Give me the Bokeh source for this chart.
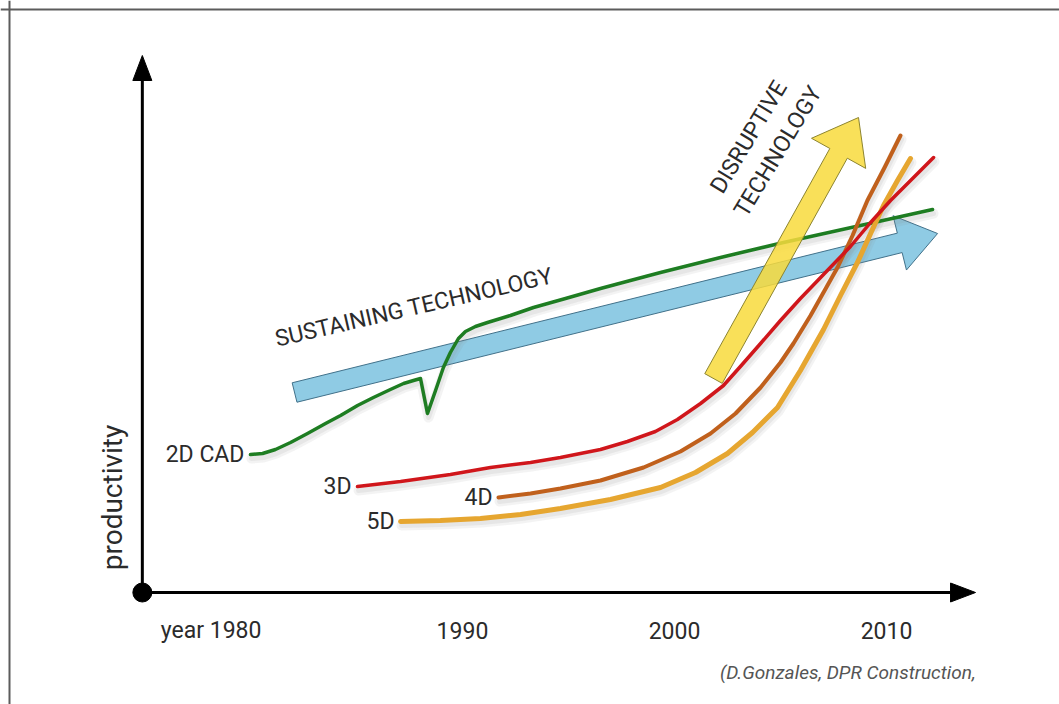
import math
from bokeh.plotting import figure
from bokeh.models import Range1d, Span
from bokeh.core.properties import value
from bokeh.embed import file_html
from bokeh.resources import INLINE

# ---------------- data (year, productivity index) ----------------
cad2d_x = [1980.0, 1980.57, 1981.18, 1981.89, 1982.69, 1983.54, 1984.25, 1985.05, 1985.80, 1986.60,
           1987.22, 1987.69, 1988.02, 1988.35, 1988.73, 1989.10, 1989.43, 1989.81, 1990.14, 1990.61,
           1991.18, 1992.26, 1993.35, 1994.86, 1996.51, 1997.92, 1999.34, 2002.17, 2005.14, 2008.77, 2012.17]
cad2d_y = [27.6, 27.8, 28.6, 30.0, 31.8, 33.8, 35.4, 37.4, 39.0, 40.6,
           41.8, 42.4, 42.8, 35.8, 40.4, 45.0, 48.0, 50.8, 52.2, 53.2,
           54.0, 55.4, 57.0, 58.8, 60.8, 62.4, 64.0, 67.0, 70.0, 73.4, 76.6]

d3_x = [1985.05, 1987.08, 1989.43, 1991.32, 1993.21, 1994.62, 1996.51, 1997.78, 1999.10, 2000.14, 2001.23,
        2002.31, 2003.11, 2004.06, 2005.0, 2005.94, 2007.12, 2008.30, 2009.25, 2010.19, 2011.23, 2012.22]
d3_y = [21.2, 22.2, 23.6, 25.0, 26.0, 27.0, 28.6, 30.2, 32.2, 34.6, 37.8,
        41.4, 45.2, 49.8, 54.4, 58.8, 64.0, 69.2, 74.0, 78.4, 82.8, 87.0]

d4_x = [1991.70, 1993.21, 1994.62, 1996.51, 1998.54, 2000.28, 2001.70, 2002.88, 2004.06, 2005.0,
        2005.61, 2006.42, 2007.69, 2008.40, 2009.10, 2009.91, 2010.66]
d4_y = [19.0, 19.8, 20.8, 22.4, 25.0, 28.2, 31.8, 35.8, 41.0, 46.0,
        49.8, 55.4, 65.0, 71.4, 78.4, 85.0, 91.4]

d5_x = [1987.08, 1988.96, 1990.85, 1992.74, 1994.62, 1996.98, 1999.34, 2000.99, 2002.50, 2003.68,
        2004.86, 2005.94, 2007.03, 2007.83, 2008.63, 2009.25, 2009.86, 2010.52, 2011.13]
d5_y = [14.2, 14.4, 14.8, 15.6, 16.8, 18.6, 21.0, 24.0, 27.8, 32.0,
        37.0, 44.4, 52.6, 59.4, 66.0, 71.8, 77.4, 82.4, 86.8]

series_names = ["2D CAD", "3D", "4D", "5D"]

tick_years = [1980, 1990, 2000, 2010]
tick_labels = ["year 1980", "1990", "2000", "2010"]

# trend arrows: start and end (year, productivity)
sustaining_start = (1982.08, 40.0)
sustaining_end = (2012.41, 71.8)
disruptive_start = (2001.84, 42.8)
disruptive_end = (2008.68, 95.0)

axis_origin = (1974.9, 0.0)
x_axis_end = 2014.2
y_axis_end = 107.4

# ---------------- canvas ----------------
W, H = 1059, 704
X0, X1 = 1968.21, 2018.16
Y0, Y1 = -22.4, 118.4
SX = W / (X1 - X0)   # px per year
SY = H / (Y1 - Y0)   # px per unit

p = figure(width=W, height=H, x_range=Range1d(X0, X1), y_range=Range1d(Y0, Y1),
           output_backend="svg", toolbar_location=None,
           x_axis_location=None, y_axis_location=None, min_border=0)
p.grid.visible = False
p.outline_line_color = None
p.background_fill_color = "white"
p.border_fill_color = "white"

# picture frame (left & top)
p.add_layout(Span(location=X0 + 9.0 / SX, dimension="height", line_color="#5c5c5c", line_width=2))
p.add_layout(Span(location=Y1 - 9.0 / SY, dimension="width", line_color="#5c5c5c", line_width=2))


def block_arrow(start, end, shaft_w, head_w, head_len):
    ax, ay = start[0] * SX, start[1] * SY
    bx, by = end[0] * SX, end[1] * SY
    L = math.hypot(bx - ax, by - ay)
    ux, uy = (bx - ax) / L, (by - ay) / L
    nx, ny = -uy, ux
    cx, cy = bx - head_len * ux, by - head_len * uy
    pts = [
        (ax + nx * shaft_w / 2, ay + ny * shaft_w / 2),
        (cx + nx * shaft_w / 2, cy + ny * shaft_w / 2),
        (cx + nx * head_w / 2, cy + ny * head_w / 2),
        (bx, by),
        (cx - nx * head_w / 2, cy - ny * head_w / 2),
        (cx - nx * shaft_w / 2, cy - ny * shaft_w / 2),
        (ax - nx * shaft_w / 2, ay - ny * shaft_w / 2),
    ]
    return [q[0] / SX for q in pts], [q[1] / SY for q in pts]


def shadow(xs, ys, dx_px=1, dy_px=4):
    return [v + dx_px / SX for v in xs], [v - dy_px / SY for v in ys]


TEXT = "#2b2b2b"
FONT = value("Roboto")

# axes
ox, oy = axis_origin
head_len, head_w = 25, 19
p.line([ox, x_axis_end - head_len / SX], [oy, oy], line_color="black", line_width=3)
p.line([ox, ox], [oy, y_axis_end - head_len / SY], line_color="black", line_width=3)
p.patch([x_axis_end, x_axis_end - head_len / SX, x_axis_end - head_len / SX],
        [oy, oy + head_w / 2 / SY, oy - head_w / 2 / SY], color="black")
p.patch([ox, ox - head_w / 2 / SX, ox + head_w / 2 / SX],
        [y_axis_end, y_axis_end - head_len / SY, y_axis_end - head_len / SY], color="black")
p.scatter([ox], [oy], size=19, color="black")

# sustaining arrow
bx_, by_ = block_arrow(sustaining_start, sustaining_end, 20, 56, 39)
p.patch(bx_, by_, fill_color="#8fcbe4", line_color="#41718a", line_width=1)

# soft shadows under the curves
for xs, ys in [(cad2d_x, cad2d_y), (d3_x, d3_y), (d4_x, d4_y), (d5_x, d5_y)]:
    sx_, sy_ = shadow(xs, ys)
    p.line(sx_, sy_, line_color="#8a8a8a", line_width=10, line_alpha=0.10, line_join="round", line_cap="round")
    p.line(sx_, sy_, line_color="#8a8a8a", line_width=5, line_alpha=0.12, line_join="round", line_cap="round")

# 2D CAD
p.line(cad2d_x, cad2d_y, line_color="#1e7d22", line_width=3.5, line_join="round", line_cap="round")

# disruptive arrow
yx_, yy_ = block_arrow(disruptive_start, disruptive_end, 20, 62, 41)
p.patch(yx_, yy_, fill_color="#f8da3c", fill_alpha=0.85, line_color="#8c8430", line_width=1)

# BIM curves
p.line(d5_x, d5_y, line_color="#e6a630", line_width=5, line_join="round", line_cap="round")
p.line(d4_x, d4_y, line_color="#c0601c", line_width=4, line_join="round", line_cap="round")
p.line(d3_x, d3_y, line_color="#d0161b", line_width=3.5, line_join="round", line_cap="round")

# series labels at curve starts
p.text(x=[cad2d_x[0], d3_x[0], d4_x[0], d5_x[0]],
       y=[cad2d_y[0], d3_y[0], d4_y[0], d5_y[0]],
       text=series_names, x_offset=-6, text_align="right", text_baseline="middle",
       text_font=FONT, text_font_size="23px", text_color=TEXT)

# tick labels
p.text(x=tick_years[1:], y=[-7.6] * 3, text=tick_labels[1:], text_align="center",
       text_baseline="middle", text_font=FONT, text_font_size="23px", text_color=TEXT)
p.text(x=[tick_years[0]], y=[-7.6], text=[tick_labels[0]], x_offset=11, text_align="right",
       text_baseline="middle", text_font=FONT, text_font_size="23px", text_color=TEXT)

# axis title
p.text(x=[1973.5], y=[19.0], text=["productivity"], angle=math.pi / 2, text_align="center",
       text_baseline="middle", text_font=FONT, text_font_size="28px", text_color=TEXT)

# arrow captions
p.text(x=[1987.71], y=[57.0], text=["SUSTAINING TECHNOLOGY"], angle=math.radians(13),
       text_align="center", text_baseline="middle", text_font=FONT, text_font_size="23px",
       text_color=TEXT)
p.text(x=[2003.51, 2004.88], y=[91.1, 88.2], text=["DISRUPTIVE", "TECHNOLOGY"],
       angle=math.radians(59), text_align="center", text_baseline="middle", text_font=FONT,
       text_font_size="23px", text_color=TEXT)

# credit
p.text(x=[x_axis_end], y=[-16.0], text=["(D.Gonzales, DPR Construction,"], text_align="right",
       text_baseline="middle", text_font=FONT, text_font_size="19px", text_font_style="italic",
       text_color="#555555")

open("out.html", "w").write(file_html(p, INLINE))
